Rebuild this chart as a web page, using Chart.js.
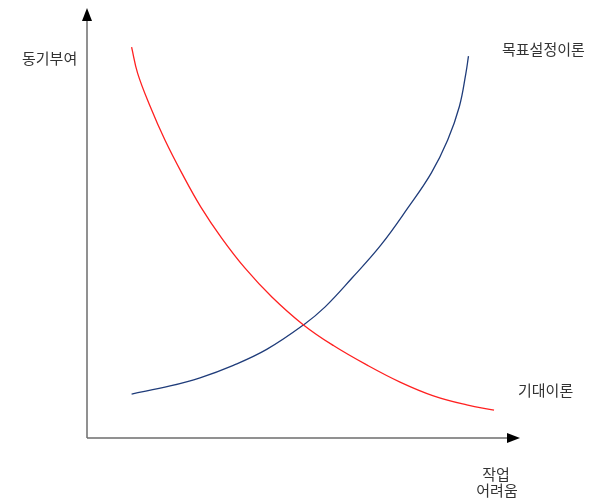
<!DOCTYPE html>
<html>
<head>
<meta charset="utf-8">
<script src="https://cdn.jsdelivr.net/npm/chart.js@4"></script>
<style>
  html, body { margin: 0; padding: 0; background: #fff; }
  #wrap { width: 589px; height: 500px; }
</style>
</head>
<body>
<div id="wrap"><canvas id="c" width="589" height="500"></canvas></div>
<script>
// 곡선 데이터 (x: 작업 어려움, y: 동기부여, 0~100)
const expectX = [10.3, 11.7, 14.6, 18.0, 21.9, 26.3, 31.1, 36.5, 42.7, 50.0, 56.9, 64.6, 72.3, 80.0, 87.7, 94.0];
const expectY = [90.9, 84.8, 77.1, 69.3, 61.6, 53.7, 46.5, 39.5, 32.8, 26.3, 21.5, 17.0, 13.0, 9.8, 7.7, 6.5];
const goalX = [10.3, 19.2, 26.1, 33.8, 41.5, 50.0, 55.0, 61.2, 67.9, 74.1, 79.5, 83.3, 86.0, 87.5, 88.1];
const goalY = [10.2, 12.1, 14.0, 16.9, 20.6, 26.3, 30.5, 37.2, 44.9, 53.5, 61.6, 69.3, 77.1, 84.8, 88.8];

const yLabel = '동기부여';
const xLabel = ['작업', '어려움'];
const goalName = '목표설정이론';
const expectName = '기대이론';

const toPts = (xs, ys) => xs.map((x, i) => ({ x: x, y: ys[i] }));

// 축 + 화살표 + 라벨
const axisPlugin = {
    id: 'axisArrows',
    afterDraw(chart) {
        const ctx = chart.ctx;
        const x = chart.scales.x, y = chart.scales.y;
        const x0 = x.getPixelForValue(0), x1 = x.getPixelForValue(100);
        const y0 = y.getPixelForValue(0), y1 = y.getPixelForValue(100);
        ctx.save();
        ctx.strokeStyle = '#6e6e6e';
        ctx.lineWidth = 1.5;
        ctx.beginPath();
        ctx.moveTo(x0, y0);
        ctx.lineTo(x0, y1 + 10);
        ctx.moveTo(x0, y0);
        ctx.lineTo(x1 - 10, y0);
        ctx.stroke();
        ctx.fillStyle = '#000';
        ctx.beginPath();
        ctx.moveTo(x0, y1);
        ctx.lineTo(x0 - 5, y1 + 13);
        ctx.lineTo(x0 + 5, y1 + 13);
        ctx.closePath();
        ctx.fill();
        ctx.beginPath();
        ctx.moveTo(x1, y0);
        ctx.lineTo(x1 - 13, y0 - 5);
        ctx.lineTo(x1 - 13, y0 + 5);
        ctx.closePath();
        ctx.fill();

        ctx.fillStyle = '#333';
        ctx.font = '15px "Noto Sans CJK KR"';
        ctx.textBaseline = 'middle';
        ctx.textAlign = 'left';
        ctx.fillText(yLabel, 22, 58);
        ctx.fillText(goalName, 502, 49);
        ctx.fillText(expectName, 518, 390);
        ctx.textAlign = 'center';
        ctx.fillText(xLabel[0], 496, 474);
        ctx.fillText(xLabel[1], 497, 490);
        ctx.restore();
    }
};

new Chart(document.getElementById('c'), {
    type: 'line',
    data: {
        datasets: [
            { label: expectName, data: toPts(expectX, expectY), borderColor: '#ff2020', borderWidth: 1.3, pointRadius: 0, tension: 0.4, fill: false },
            { label: goalName, data: toPts(goalX, goalY), borderColor: '#1f3c7a', borderWidth: 1.3, pointRadius: 0, tension: 0.4, fill: false }
        ]
    },
    options: {
        responsive: false,
        animation: false,
        layout: { padding: { left: 87, right: 69, top: 8, bottom: 62 } },
        plugins: { legend: { display: false }, tooltip: { enabled: false } },
        scales: {
            x: { type: 'linear', min: 0, max: 100, display: false },
            y: { type: 'linear', min: 0, max: 100, display: false }
        }
    },
    plugins: [axisPlugin]
});
</script>
</body>
</html>
